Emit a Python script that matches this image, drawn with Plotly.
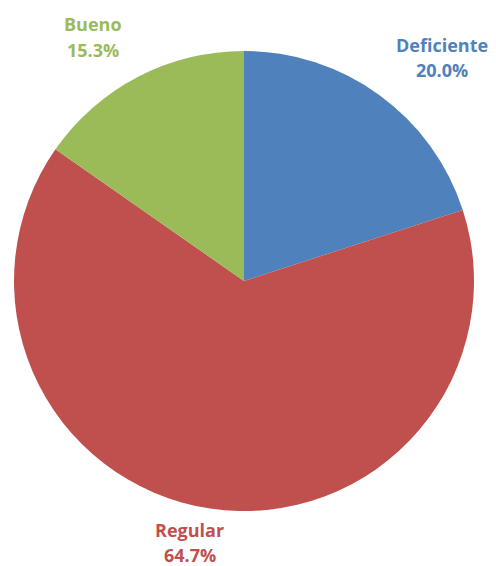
import plotly.graph_objects as go

labels = ["Deficiente", "Regular", "Bueno"]
values = [20.0, 64.7, 15.3]
colors = ["#4F81BD", "#C0504D", "#9BBB59"]
# label positions in paper coordinates (x, y of name line, y of percent line)
label_pos = [(0.875, 0.9346, 0.8905), (0.3669, 0.0777, 0.0336), (0.1714, 0.9717, 0.9258)]

fig = go.Figure(go.Pie(
    labels=labels, values=values, sort=False, direction="clockwise",
    marker=dict(colors=colors, line=dict(width=0)),
    textinfo="none", hoverinfo="label+percent", showlegend=False,
    domain=dict(x=[6/496, 466/496], y=[1-503/566, 1-43/566]),
))

for lab, val, col, (x, y1, y2) in zip(labels, values, colors, label_pos):
    for txt, y in ((lab, y1), (f"{val:.1f}%", y2)):
        fig.add_annotation(x=x, y=y, xref="paper", yref="paper", text=f"<b>{txt}</b>",
                           xanchor="center", yanchor="middle", showarrow=False,
                           font=dict(family="Open Sans", size=18, color=col))

fig.update_layout(width=496, height=566, margin=dict(l=0, r=0, t=0, b=0),
                  paper_bgcolor="white", plot_bgcolor="white")
fig.write_html("out.html")
